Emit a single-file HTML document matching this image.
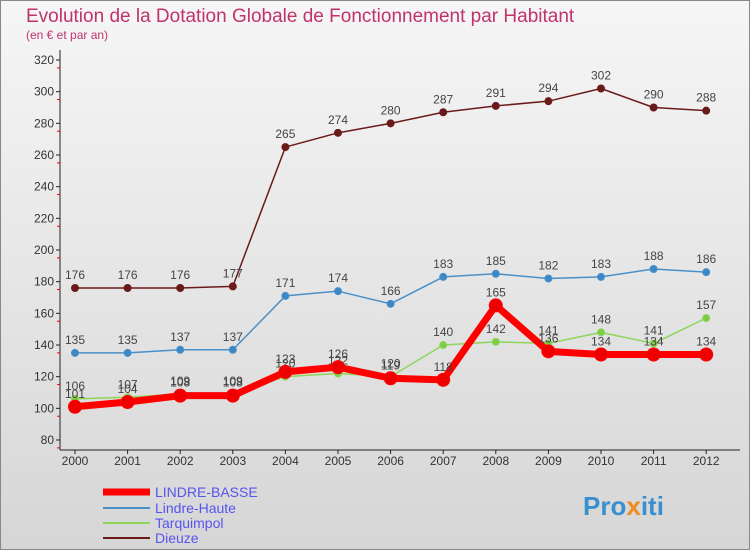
<!DOCTYPE html>
<html><head><meta charset="utf-8"><style>
body{margin:0;width:750px;height:550px;overflow:hidden;font-family:"Liberation Sans",sans-serif}
</style></head><body>
<svg id="c" width="750" height="550" xmlns="http://www.w3.org/2000/svg">
<defs><linearGradient id="bg" x1="0" y1="0" x2="0" y2="1"><stop offset="0" stop-color="#f6f6f6"/><stop offset="1" stop-color="#d6d6d6"/></linearGradient></defs>
<rect x="0.5" y="0.5" width="749" height="549" fill="url(#bg)" stroke="#888"/>
<text x="26" y="22" font-size="19" fill="#c0336b">Evolution de la Dotation Globale de Fonctionnement par Habitant</text>
<text x="26" y="39" font-size="12" fill="#c0336b">(en € et par an)</text>
<g id="axes"></g><g id="series"></g>
<g>
<line x1="103" y1="492" x2="150" y2="492" stroke="#ff0000" stroke-width="7"/>
<text x="155" y="497" font-size="14" fill="#5555ee">LINDRE-BASSE</text>
<line x1="103" y1="508" x2="150" y2="508" stroke="#4a90c8" stroke-width="2"/>
<text x="155" y="513" font-size="14" fill="#5555ee">Lindre-Haute</text>
<line x1="103" y1="523" x2="150" y2="523" stroke="#8ed65a" stroke-width="2"/>
<text x="155" y="528" font-size="14" fill="#5555ee">Tarquimpol</text>
<line x1="103" y1="538" x2="150" y2="538" stroke="#6b1a1a" stroke-width="2"/>
<text x="155" y="543" font-size="14" fill="#5555ee">Dieuze</text>
</g>
<text x="583" y="515" font-size="26" font-weight="bold" fill="#3a8fd0">Pro<tspan fill="#f08a1c">x</tspan>iti</text>
</svg>
<script>
const years=[2000,2001,2002,2003,2004,2005,2006,2007,2008,2009,2010,2011,2012];
const yTicks=[80,100,120,140,160,180,200,220,240,260,280,300,320];
const dieuze=[176,176,176,177,265,274,280,287,291,294,302,290,288];
const lindreHaute=[135,135,137,137,171,174,166,183,185,182,183,188,186];
const tarquimpol=[106,107,109,109,120,122,120,140,142,141,148,141,157];
const lindreBasse=[101,104,108,108,123,126,119,118,165,136,134,134,134];
const NS="http://www.w3.org/2000/svg";
const X=i=>75+i*52.6, Y=v=>440-(v-80)*380/240;
function mk(t,a,p){const e=document.createElementNS(NS,t);for(const k in a)e.setAttribute(k,a[k]);p.appendChild(e);return e;}
const ax=document.getElementById('axes');
let l=mk('line',{x1:60,y1:50,x2:60,y2:450,stroke:'#222'},ax);


l=mk('line',{x1:60,y1:450,x2:740,y2:450,stroke:'#222'},ax);


yTicks.forEach(v=>{
 const y=Y(v);
 mk('line',{x1:56,y1:y,x2:60,y2:y,stroke:'#222'},ax);
 mk('line',{x1:57,y1:y+7.9,x2:60,y2:y+7.9,stroke:'#e00'},ax);
 const t=mk('text',{x:54,y:y+4,'font-size':12,'text-anchor':'end',fill:'#333'},ax);t.textContent=v;
 
 
});
years.forEach((yr,i)=>{
 mk('line',{x1:X(i),y1:450,x2:X(i),y2:454,stroke:'#222'},ax);
 const t=mk('text',{x:X(i),y:465,'font-size':12,'text-anchor':'middle',fill:'#333'},ax);t.textContent=yr;
 
 
});
const sg=document.getElementById('series');
function series(d,name,col,w,r,dot){
 const g=mk('g',{},sg);
 
 
 mk('polyline',{points:d.map((v,i)=>X(i)+','+Y(v)).join(' '),fill:'none',stroke:col,'stroke-width':w,'stroke-linejoin':'round'},g);
 d.forEach((v,i)=>{
  const c=mk('circle',{cx:X(i),cy:Y(v),r:r,fill:dot,stroke:col,'stroke-width':1},g);
  
  
  const t=mk('text',{x:X(i),y:Y(v)-9,'font-size':12,'text-anchor':'middle',fill:'#444'},g);t.textContent=v;
  
  
 });
}
series(dieuze,'dieuze','#6b1a1a',1.5,3.5,'#6b1a1a');
series(lindreHaute,'lindre-haute','#4a90c8',1.5,3.5,'#3a88c8');
series(tarquimpol,'tarquimpol','#8ed65a',1.5,3.5,'#7ccc44');
series(lindreBasse,'lindre-basse','#ff0000',7,6.5,'#ee0000');
</script>
</body></html>
